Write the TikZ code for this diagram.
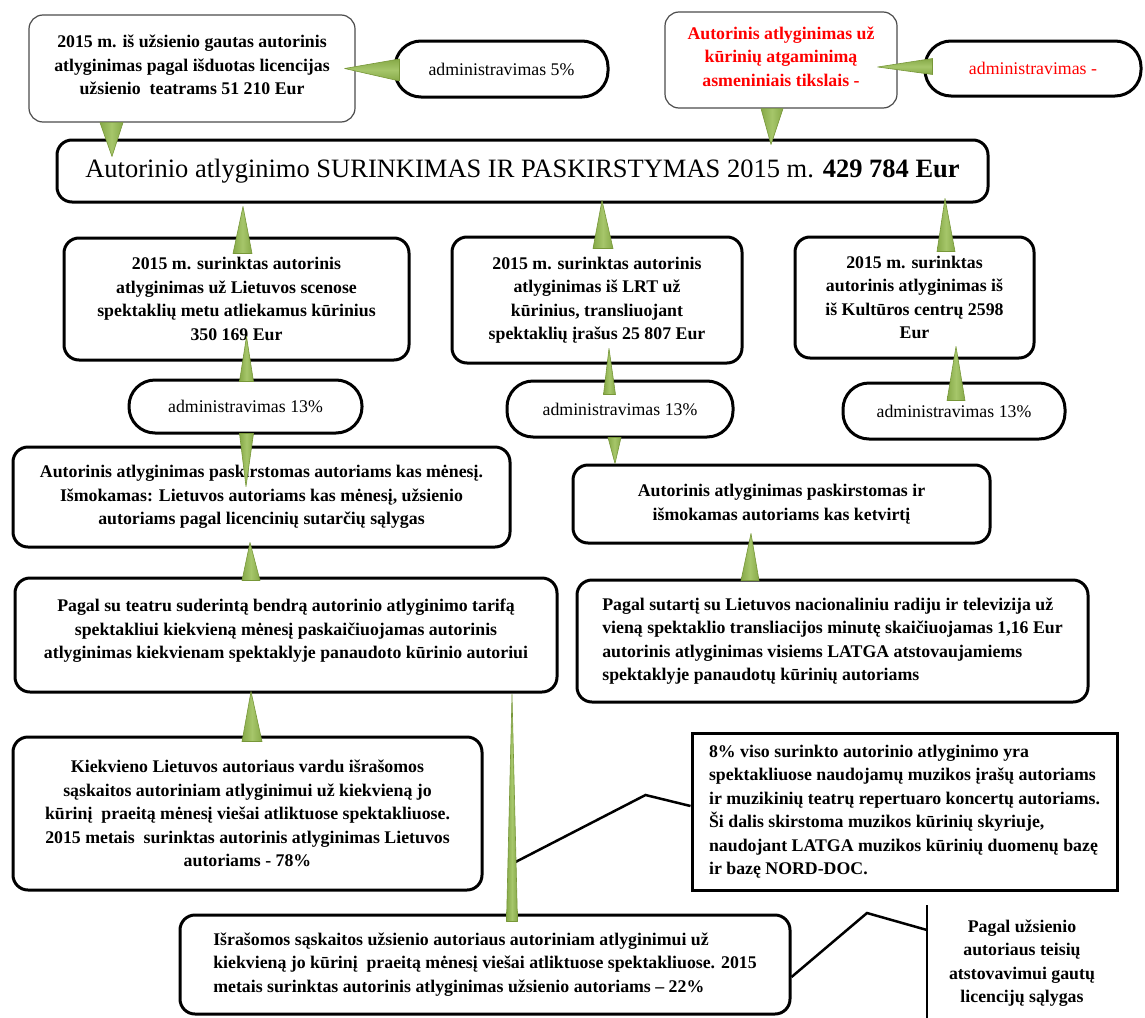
\documentclass[tikz,border=0pt]{standalone}
\usepackage{fontspec}
\setmainfont{Liberation Serif}
\usetikzlibrary{calc}
\definecolor{wdark}{HTML}{86A948}
\definecolor{wlight}{HTML}{A6C66A}
\definecolor{wedge}{HTML}{779738}
\definecolor{redtext}{HTML}{FF0000}
\newcommand\vwedge[3]{\path[wedgestyle,left color=wdark,right color=wdark,middle color=wlight] ($#1+(-#3,0)$) -- #2 -- ($#1+(#3,0)$) -- cycle;}
\newcommand\hwedge[3]{\path[wedgestyle,top color=wdark,bottom color=wdark,middle color=wlight] ($#1+(0,-#3)$) -- #2 -- ($#1+(0,#3)$) -- cycle;}
\begin{document}
\begin{tikzpicture}[x=1pt,y=-1pt,
  boxtxt/.style={font=\bfseries\fontsize{17.8}{23.5}\selectfont},
  bigbox/.style={draw=black, line width=3pt, rounded corners=15pt, fill=white, inner sep=0pt, align=center, boxtxt},
  thinbox/.style={draw=black!70, line width=1.2pt, rounded corners=14pt, fill=white, inner sep=0pt, align=center, boxtxt},
  sqbox/.style={draw=black, line width=3pt, fill=white, inner sep=0pt, align=left, boxtxt},
  pill/.style={draw=black, line width=3pt, rounded corners=26pt, fill=white, inner sep=0pt, font=\fontsize{17.8}{21}\selectfont},
  wedgestyle/.style={draw=wedge, line width=0.6pt, line join=round},
  callline/.style={draw=black, line width=2.5pt, line join=miter}
]
\useasboundingbox (0,0) rectangle (1145,1017);
\fill[white] (0,0) rectangle (1145,1017);

% top row
\node[thinbox, minimum width=326pt, minimum height=107pt] (A) at (192,68.5) {};
\node[boxtxt, align=center, inner sep=0pt] (At) at (192,65)
  {2015 m. iš užsienio gautas autorinis\\ atlyginimas pagal išduotas licencijas\\ užsienio\ \ teatrams 51 210 Eur};
\node[pill, minimum width=213pt, minimum height=56pt] (O1) at (501.5,69) {administravimas 5\%};
\node[thinbox, minimum width=232pt, minimum height=96pt] (B) at (781,60) {};
\node[boxtxt, align=center, inner sep=0pt, text=redtext] (Bt) at (781,56.5)
  {Autorinis atlyginimas už\\ kūrinių atgaminimą\\ asmeniniais tikslais -};
\node[pill, minimum width=216pt, minimum height=55pt, text=redtext] (O2) at (1033,68.5) {administravimas -};

% main box
\node[bigbox, minimum width=931pt, minimum height=62pt, font=\fontsize{26.5}{30}\selectfont] (M) at (522.5,171)
  {Autorinio atlyginimo SURINKIMAS IR PASKIRSTYMAS 2015 m. \textbf{429 784 Eur}};

% collection boxes
\node[bigbox, minimum width=345pt, minimum height=122pt] (C1) at (236.5,299)
  {2015 m. surinktas autorinis\\ atlyginimas už Lietuvos scenose\\ spektaklių metu atliekamus kūrinius\\ 350 169 Eur};
\node[bigbox, minimum width=290pt, minimum height=126pt] (C2) at (597,300)
  {2015 m. surinktas autorinis\\ atlyginimas iš LRT už\\ kūrinius, transliuojant\\ spektaklių įrašus 25 807 Eur};
\node[bigbox, minimum width=239pt, minimum height=121pt] (C3) at (914.5,297.5)
  {2015 m. surinktas\\ autorinis atlyginimas iš\\ iš Kultūros centrų 2598\\ Eur};

% administration pills
\node[pill, minimum width=233pt, minimum height=53pt] (O3) at (245.5,406.5) {administravimas 13\%};
\node[pill, minimum width=226pt, minimum height=56pt] (O4) at (620,409) {administravimas 13\%};
\node[pill, minimum width=222pt, minimum height=56pt] (O5) at (954,411) {administravimas 13\%};

% distribution boxes
\node[bigbox, minimum width=497pt, minimum height=100pt] (D1) at (261.5,497)
  {Autorinis atlyginimas paskirstomas autoriams kas mėnesį.\\ Išmokamas: Lietuvos autoriams kas mėnesį, užsienio\\ autoriams pagal licencinių sutarčių sąlygas};
\node[bigbox, minimum width=417pt, minimum height=78pt] (D2) at (781.5,504)
  {Autorinis atlyginimas paskirstomas ir\\ išmokamas autoriams kas ketvirtį};

% calculation boxes
\node[bigbox, minimum width=542pt, minimum height=114pt] (E1) at (286,635) {};
\node[boxtxt, align=center, inner sep=0pt] (E1t) at (286,631)
  {Pagal su teatru suderintą bendrą autorinio atlyginimo tarifą\\ spektakliui kiekvieną mėnesį paskaičiuojamas autorinis\\ atlyginimas kiekvienam spektaklyje panaudoto kūrinio autoriui};
\node[bigbox, align=left, minimum width=511pt, minimum height=122pt] (E2) at (832.5,641)
  {Pagal sutartį su Lietuvos nacionaliniu radiju ir televizija už\\ vieną spektaklio transliacijos minutę skaičiuojamas 1,16 Eur\\ autorinis atlyginimas visiems LATGA atstovaujamiems\\ spektaklyje panaudotų kūrinių autoriams};

% invoices
\node[bigbox, minimum width=469pt, minimum height=153pt] (F1) at (247.5,813.5)
  {Kiekvieno Lietuvos autoriaus vardu išrašomos\\ sąskaitos autoriniam atlyginimui už kiekvieną jo\\ kūrinį\ \ praeitą mėnesį viešai atliktuose spektakliuose.\\ 2015 metais\ \ surinktas autorinis atlyginimas Lietuvos\\ autoriams - 78\%};
\node[sqbox, minimum width=425pt, minimum height=157pt] (G) at (904.5,811.5)
  {8\% viso surinkto autorinio atlyginimo yra\\ spektakliuose naudojamų muzikos įrašų autoriams\\ ir muzikinių teatrų repertuaro koncertų autoriams.\\ Ši dalis skirstoma muzikos kūrinių skyriuje,\\ naudojant LATGA muzikos kūrinių duomenų bazę\\ ir bazę NORD-DOC.};
\node[bigbox, align=left, minimum width=610pt, minimum height=99pt] (H) at (485,964.5)
  {Išrašomos sąskaitos užsienio autoriaus autoriniam atlyginimui už\\ kiekvieną jo kūrinį\ \ praeitą mėnesį viešai atliktuose spektakliuose. 2015\\ metais surinktas autorinis atlyginimas užsienio autoriams – 22\%};
\node[boxtxt, align=center, inner sep=0pt] (R) at (1022,963)
  {Pagal užsienio\\ autoriaus teisių\\ atstovavimui gautų\\ licencijų sąlygas};

% line callouts
\coordinate (g1) at ($(G.west)+(-175,50.5)$);
\coordinate (g2) at ($(G.west)+(-45,-16.5)$);
\draw[callline] (g1) -- (g2) -- ($(G.west)+(0,-5.5)$);
\coordinate (r0) at ($(R)+(-95,-58)$);
\coordinate (r3) at ($(R)+(-95,56)$);
\draw[line width=2.5pt] (r0) -- (r3);
\coordinate (h1) at ($(H.east)+(0,12.5)$);
\coordinate (h2) at ($(R)+(-155,-50)$);
\draw[callline] (h1) -- (h2) -- ($(R)+(-95,-33)$);

% green callout pointers
\hwedge{($(O1.west)+(6,1)$)}{($(A.east)+(-11,0)$)}{11}
\hwedge{($(O2.west)+(9,-2)$)}{($(B.east)+(-20,7)$)}{8}
\vwedge{($(A.south)+(-80.5,0)$)}{($(M.north)+(-410.5,18)$)}{11.5}
\vwedge{($(B.south)+(-9,0)$)}{($(M.north)+(248.5,6)$)}{11}
\vwedge{($(C1.north)+(6,17)$)}{($(M.south)+(-279.5,3)$)}{9.5}
\vwedge{($(C2.north)+(6,13)$)}{($(M.south)+(79.5,-3)$)}{10}
\vwedge{($(C3.north)+(31.5,16)$)}{($(M.south)+(422.5,-5)$)}{9}
\vwedge{($(O3.north)+(1,3)$)}{($(C1.south)+(10,-25)$)}{7}
\vwedge{($(O3.south)+(1,-1)$)}{($(D1.north)+(-15.5,41)$)}{7}
\vwedge{($(O4.north)+(-10.5,15)$)}{($(C2.south)+(12,-16)$)}{6}
\vwedge{($(O4.south)+(-5.5,-1)$)}{($(D2.north)+(-166.5,0)$)}{6.5}
\vwedge{($(O5.north)+(2,19)$)}{($(C3.south)+(41.5,-13)$)}{9}
\vwedge{($(E1.north)+(-35,4)$)}{($(D1.south)+(-11.5,-6)$)}{9}
\vwedge{($(E2.north)+(-82.5,2)$)}{($(D2.south)+(-30.5,-11)$)}{9}
\vwedge{($(F1.north)+(4.5,6)$)}{($(E1.south)+(-35,-2)$)}{10}
\vwedge{($(H.north)+(27,8)$)}{($(E1.south)+(226,1)$)}{5.5}
\end{tikzpicture}
\end{document}
